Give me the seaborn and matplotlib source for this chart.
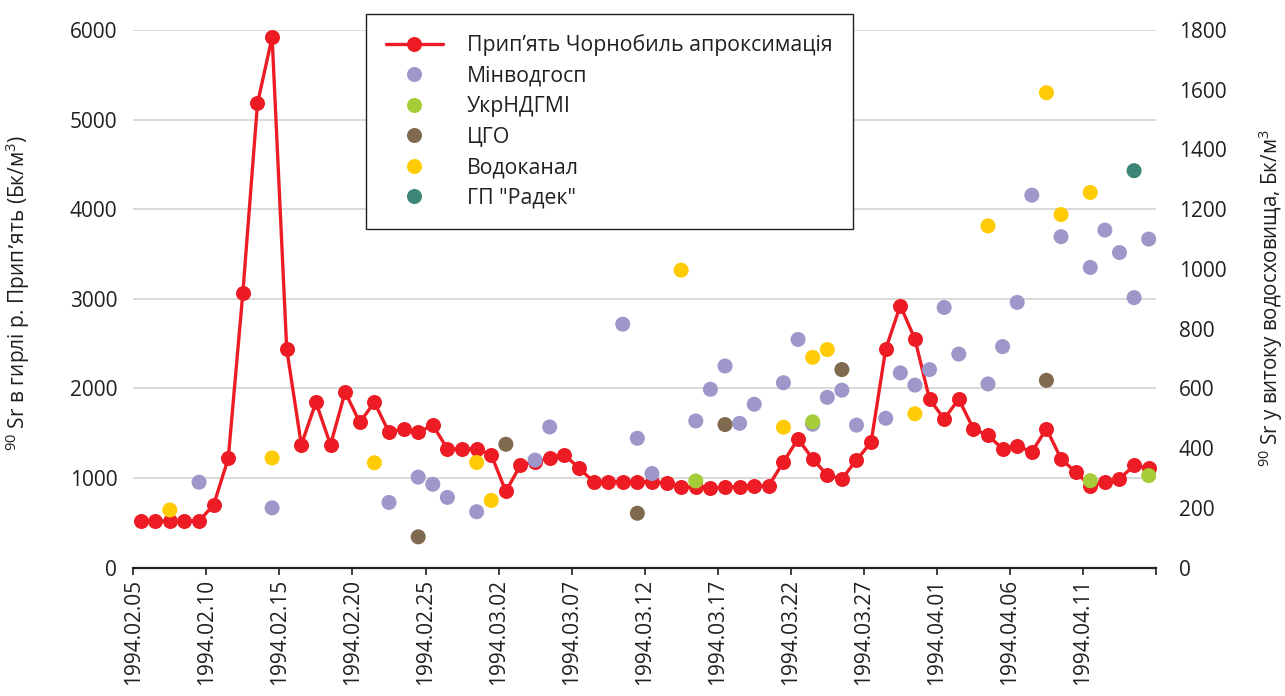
import matplotlib
matplotlib.use("Agg")
import matplotlib.pyplot as plt
import seaborn as sns
import numpy as np
import pandas as pd

# ---------------- data ----------------
dates = pd.date_range("1994-02-05", "1994-04-15", freq="D").strftime("%Y.%m.%d").tolist()
tick_days = list(range(0, 71, 5))
tick_labels = [dates[d] if d < len(dates) else "" for d in tick_days]

# Прип'ять Чорнобиль апроксимація (left axis, Бк/м3), one value per day
pripyat = [520, 520, 520, 520, 520, 700, 1220, 3070, 5180, 5920,
           2440, 1370, 1845, 1370, 1960, 1620, 1845, 1510, 1550, 1510,
           1590, 1325, 1325, 1325, 1260, 850, 1145, 1180, 1220, 1260,
           1110, 960, 960, 960, 960, 960, 940, 905, 895, 885,
           895, 905, 910, 915, 1180, 1435, 1215, 1030, 990, 1200,
           1400, 2440, 2925, 2550, 1880, 1660, 1880, 1550, 1475, 1325,
           1360, 1290, 1550, 1215, 1065, 915, 950, 990, 1140, 1110]

# reservoir measurements (right axis, Бк/м3): day index and value
minvodgosp_days = [4, 9, 17, 19, 20, 21, 23, 27, 28, 33, 34, 35, 38, 39, 40, 41, 42, 44, 45, 46,
                   47, 48, 49, 51, 52, 53, 54, 55, 56, 58, 59, 60, 61, 63, 65, 66, 67, 68, 69]
minvodgosp_vals = [286, 200, 218, 303, 279, 235, 187, 360, 471, 815, 433, 315, 491, 597, 675, 483, 547, 619, 764, 480,
                   570, 594, 477, 500, 652, 611, 663, 871, 715, 615, 740, 888, 1247, 1108, 1005, 1130, 1055, 904, 1100]
ukr_days = [38, 46, 65, 69]
ukr_vals = [290, 488, 291, 308]
cgo_days = [19, 25, 34, 40, 48, 62]
cgo_vals = [103, 413, 182, 479, 663, 627]
vodokanal_days = [2, 9, 16, 23, 24, 37, 44, 46, 47, 53, 58, 62, 63, 65]
vodokanal_vals = [193, 367, 351, 352, 225, 996, 470, 704, 730, 515, 1144, 1590, 1182, 1256]
radek_days = [68]
radek_vals = [1329]

series_names = ["Мінводгосп", "УкрНДГМІ", "ЦГО", "Водоканал", 'ГП "Радек"']
series_colors = ["#9d97ca", "#a4cd39", "#7f6a4f", "#ffcb05", "#3b8676"]
line_label = "Прип’ять Чорнобиль апроксимація"
line_color = "#ed1c24"

# ---------------- build frames ----------------
df_line = pd.DataFrame({"x": np.arange(len(pripyat)) + 0.5, "y": pripyat})
parts = []
for name, d, v in zip(series_names,
                      [minvodgosp_days, ukr_days, cgo_days, vodokanal_days, radek_days],
                      [minvodgosp_vals, ukr_vals, cgo_vals, vodokanal_vals, radek_vals]):
    parts.append(pd.DataFrame({"x": np.array(d) + 0.5, "y": v, "src": name}))
df_pts = pd.concat(parts, ignore_index=True)

# ---------------- style ----------------
sns.set_theme(style="white")
plt.rcParams["font.family"] = ["Open Sans", "DejaVu Sans"]
plt.rcParams["mathtext.default"] = "regular"
txt = "#231f20"

fig = plt.figure(figsize=(12.85, 6.96), dpi=100)
ax = fig.add_axes([133.3 / 1285, 1 - 567.6 / 696, (1156 - 133.3) / 1285, (567.6 - 30) / 696])
ax2 = ax.twinx()

sns.lineplot(data=df_line, x="x", y="y", ax=ax, color=line_color, linewidth=2.4,
             marker="o", markersize=10.8, markeredgewidth=0, label=line_label)
sns.scatterplot(data=df_pts, x="x", y="y", hue="src", hue_order=series_names,
                palette=series_colors, s=117, linewidth=0, ax=ax2)

ax.set_xlim(0, 70)
ax.set_ylim(0, 6000)
ax2.set_ylim(0, 1800)
ax.set_yticks(range(0, 6001, 1000))
ax2.set_yticks(range(0, 1801, 200))
ax.set_xticks(tick_days)
ax.set_xticklabels(tick_labels, rotation=90)

ax.grid(axis="y", color="#d9d9d9", linewidth=1.4)
ax.set_axisbelow(True)
for a in (ax, ax2):
    for s in ("left", "right", "top", "bottom"):
        a.spines[s].set_visible(False)
ax.spines["bottom"].set_visible(True)
ax.spines["bottom"].set_color(txt)
ax.spines["bottom"].set_linewidth(1.6)

ax.tick_params(axis="x", direction="out", length=5, width=1.2, color=txt,
               labelsize=15, labelcolor=txt, pad=3, bottom=True)
ax.tick_params(axis="y", length=0, labelsize=15, labelcolor=txt, pad=11.5)
ax2.tick_params(axis="y", length=0, labelsize=15, labelcolor=txt, pad=16.5)

ax.set_xlabel("")
ax.set_ylabel(r"$^{90}$ Sr в гирлі р. Прип’ять (Бк/м$^3$)", fontsize=15, color=txt)
ax2.set_ylabel(r"$^{90}$ Sr у витоку водосховища, Бк/м$^3$", fontsize=14.8, color=txt)
ax.yaxis.set_label_coords((32 - 133.3) / 1022.7, (567.6 - 293) / 537.6)
ax2.yaxis.set_label_coords((1256 - 133.3) / 1022.7, (567.6 - 298) / 537.6)

# ---------------- legend ----------------
h1, l1 = ax.get_legend_handles_labels()
h2, l2 = ax2.get_legend_handles_labels()
for a in (ax, ax2):
    if a.get_legend() is not None:
        a.get_legend().remove()
leg = fig.legend(h1 + h2, l1 + l2, loc="upper left",
                 bbox_to_anchor=(366 / 1285, 1 - 14 / 696), borderaxespad=0,
                 frameon=True, fancybox=False, framealpha=1, edgecolor=txt,
                 fontsize=15.3, borderpad=0.95, labelspacing=0.45,
                 handlelength=2.65, handletextpad=1.15, markerscale=1.0)
leg.get_frame().set_linewidth(1.0)
for t in leg.get_texts():
    t.set_color(txt)

fig.savefig("out.png", dpi=100)
